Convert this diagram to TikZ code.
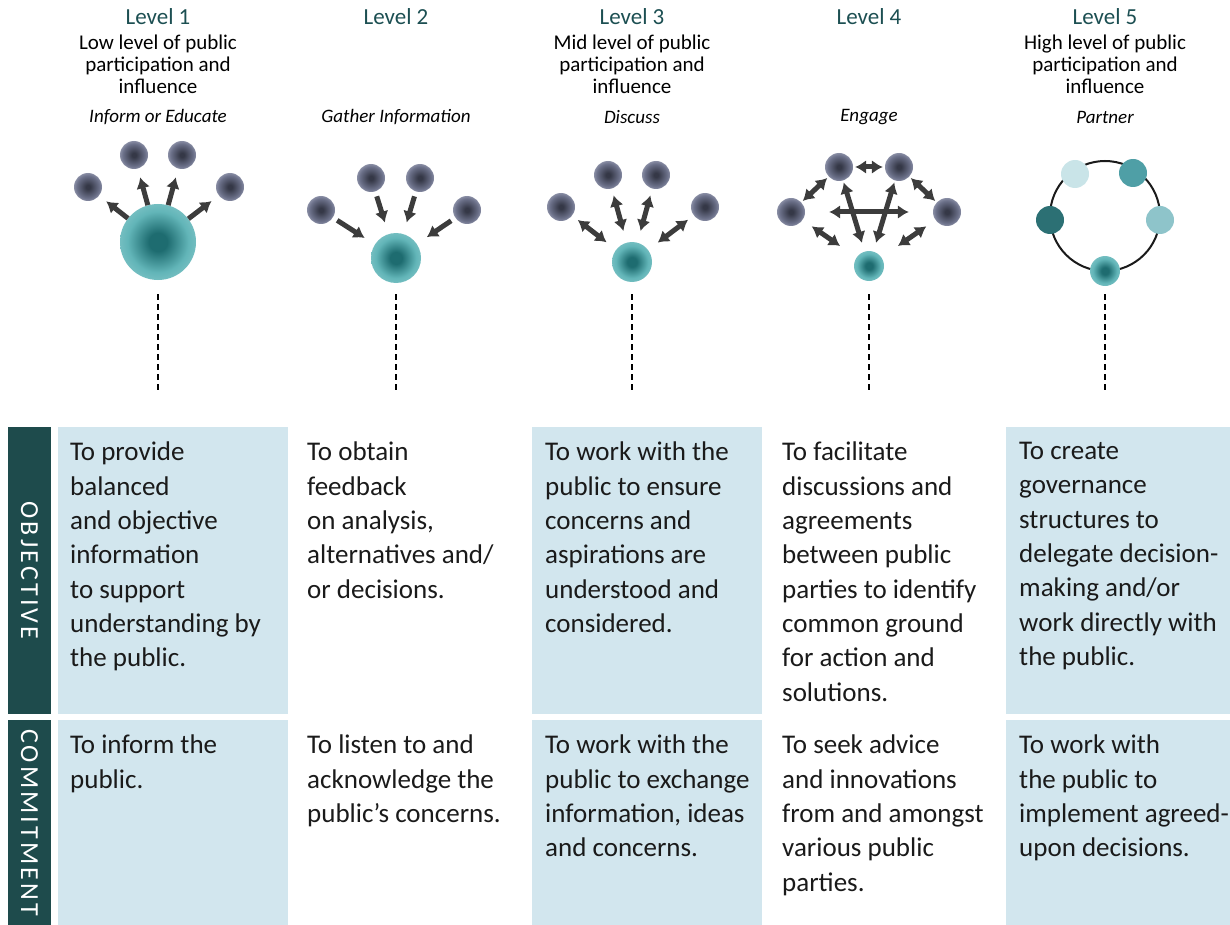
\documentclass[tikz,border=0pt]{standalone}
\usepackage{fontspec}
\setmainfont{Carlito}
\newfontfamily\tabfont[LetterSpace=12]{Carlito}
\usepackage{tikz}
\usetikzlibrary{arrows.meta}
\definecolor{pp-tab}{HTML}{1E4B4C}
\definecolor{pp-head}{HTML}{1C4F52}
\definecolor{pp-cell}{HTML}{D2E6EE}
\definecolor{pp-ink}{HTML}{1A1A1A}
\definecolor{pp-arrow}{HTML}{3C3C3C}
\definecolor{pp-dot}{HTML}{353847}
\definecolor{pp-dotmid}{HTML}{6B7089}
\definecolor{pp-dotrim}{HTML}{C6CADC}
\definecolor{pp-core}{HTML}{1E6C70}
\definecolor{pp-teal}{HTML}{62B5B8}
\definecolor{pp-tealrim}{HTML}{A6D8DA}
\definecolor{pp-pale}{HTML}{C9E4E8}
\definecolor{pp-mid}{HTML}{4F9FA6}
\definecolor{pp-deep}{HTML}{2C7074}
\definecolor{pp-soft}{HTML}{8EC4CA}
\pgfdeclareradialshading{pp-person}{\pgfpoint{0bp}{0bp}}{color(0bp)=(pp-dot); color(4bp)=(pp-dot); color(20bp)=(pp-dotmid); color(36bp)=(pp-dotrim); color(50bp)=(white)}
\pgfdeclareradialshading{pp-agency}{\pgfpoint{0bp}{0bp}}{color(0bp)=(pp-core); color(6bp)=(pp-core); color(20bp)=(pp-teal); color(40bp)=(pp-tealrim); color(50bp)=(white)}

\begin{document}
\begin{tikzpicture}[x=1pt, y=-1pt,
    person/.style={circle, inner sep=0pt, minimum size=28pt, shading=pp-person},
    agency/.style={circle, inner sep=0pt, shading=pp-agency},
    partner/.style={circle, inner sep=0pt, minimum size=28pt},
    flowline/.style={draw=pp-arrow, line width=5pt},
    onetip/.style={-{Latex[length=11pt, width=14pt]}},
    twotip/.style={{Latex[length=11pt, width=14pt]}-{Latex[length=11pt, width=14pt]}},
    heading/.style={font=\fontsize{23}{26}\selectfont, text=pp-head},
    subtitle/.style={font=\fontsize{21}{22}\selectfont, align=center},
    mode/.style={font=\fontsize{19}{22}\selectfont\itshape},
    celltext/.style={font=\fontsize{27}{34.3}\selectfont, align=left, anchor=north west, inner sep=0pt, text=pp-ink},
    tabbox/.style={fill=pp-tab, text=white, font=\tabfont\fontsize{26}{26}\selectfont, rotate=-90, inner sep=0pt, minimum height=43pt}]

    \useasboundingbox (0,0) rectangle (1230,925);

    % headings
    \node[heading] (h1) at (158,17) {Level 1};
    \node[heading] (h2) at (396,17) {Level 2};
    \node[heading] (h3) at (632,17) {Level 3};
    \node[heading] (h4) at (869,17) {Level 4};
    \node[heading] (h5) at (1105,17) {Level 5};
    \node[subtitle] (s1) at (158,64) {Low level of public\\participation and\\influence};
    \node[subtitle] (s3) at (632,64) {Mid level of public\\participation and\\influence};
    \node[subtitle] (s5) at (1105,64) {High level of public\\participation and\\influence};
    \node[mode] (m1) at (158,117) {Inform or Educate};
    \node[mode] (m2) at (396,117) {Gather Information};
    \node[mode] (m3) at (632,117) {Discuss};
    \node[mode] (m4) at (869,117) {Engage};
    \node[mode] (m5) at (1105,117) {Partner};

    % level 1: inform
    \node[agency, minimum size=76pt] (c1) at (158,242) {};
    \node[person] (p11) at (88,187) {};
    \node[person] (p12) at (134,155) {};
    \node[person] (p13) at (182,155) {};
    \node[person] (p14) at (230,187) {};
    \begin{scope}[flowline, onetip, shorten >=9pt]
        \draw (c1) -- (p11);
        \draw (c1) -- (p12);
        \draw (c1) -- (p13);
        \draw (c1) -- (p14);
    \end{scope}

    % level 2: gather
    \node[agency, minimum size=50pt] (c2) at (396,258) {};
    \node[person] (p21) at (321,210) {};
    \node[person] (p22) at (371,178) {};
    \node[person] (p23) at (420,178) {};
    \node[person] (p24) at (467,210) {};
    \begin{scope}[flowline, onetip, shorten <=5pt, shorten >=12pt]
        \draw (p21) -- (c2);
        \draw (p22) -- (c2);
        \draw (p23) -- (c2);
        \draw (p24) -- (c2);
    \end{scope}

    % level 3: discuss
    \node[agency, minimum size=40pt] (c3) at (632,262) {};
    \node[person] (p31) at (561,207) {};
    \node[person] (p32) at (608,175) {};
    \node[person] (p33) at (656,175) {};
    \node[person] (p34) at (705,207) {};
    \begin{scope}[flowline, twotip, shorten <=7pt, shorten >=12pt]
        \draw (p31) -- (c3);
        \draw (p32) -- (c3);
        \draw (p33) -- (c3);
        \draw (p34) -- (c3);
    \end{scope}

    % level 4: engage
    \node[agency, minimum size=30pt] (c4) at (869,266) {};
    \node[person] (p41) at (791,212) {};
    \node[person] (p42) at (839,167) {};
    \node[person] (p43) at (899,167) {};
    \node[person] (p44) at (947,212) {};
    \begin{scope}[flowline, twotip]
        \draw[shorten <=2pt, shorten >=2pt] (p41) -- (p42);
        \draw[shorten <=2pt, shorten >=2pt] (p42) -- (p43);
        \draw[shorten <=2pt, shorten >=2pt] (p43) -- (p44);
        \draw[shorten <=24pt, shorten >=24pt] (p41) -- (p44);
        \draw[shorten <=2pt, shorten >=9pt] (p42) -- (c4);
        \draw[shorten <=2pt, shorten >=9pt] (p43) -- (c4);
        \draw[shorten <=11pt, shorten >=20pt] (p41) -- (c4);
        \draw[shorten <=11pt, shorten >=20pt] (p44) -- (c4);
    \end{scope}

    % level 5: partner
    \coordinate (ring) at (1105,216);
    \draw[line width=2pt, color=pp-ink] (ring) circle (55);
    \node[partner, fill=pp-pale] (p51) at (1075,174) {};
    \node[partner, fill=pp-mid] (p52) at (1133,173) {};
    \node[partner, fill=pp-deep] (p53) at (1050,220) {};
    \node[partner, fill=pp-soft] (p54) at (1160,220) {};
    \node[agency, minimum size=30pt] (c5) at (1105,271) {};

    % dashed guides down to the table
    \foreach \x [count=\i] in {158,396,632,869,1105} {
        \coordinate (top\i) at (\x,294);
        \coordinate (bot\i) at (\x,391);
        \draw[line width=1.4pt, dash pattern=on 6pt off 4pt] (top\i) -- (bot\i);
    }

    % shaded cells
    \foreach \l/\r in {58/288, 532/762, 1006/1230} {
        \fill[pp-cell] (\l,427) rectangle (\r,714);
        \fill[pp-cell] (\l,720) rectangle (\r,925);
    }

    % row labels
    \node[tabbox, minimum width=287pt] (obj) at (29.5,570.5) {OBJECTIVE};
    \node[tabbox, minimum width=205pt] (com) at (29.5,822.5) {COMMITMENT};

    % objective row
    \node[celltext] (o1) at (70,442) {To provide\\balanced\\and objective\\information\\to support\\understanding by\\the public.};
    \node[celltext] (o2) at (307,442) {To obtain\\feedback\\on analysis,\\alternatives and/\\or decisions.};
    \node[celltext] (o3) at (545,442) {To work with the\\public to ensure\\concerns and\\aspirations are\\understood and\\considered.};
    \node[celltext] (o4) at (782,442) {To facilitate\\discussions and\\agreements\\between public\\parties to identify\\common ground\\for action and\\solutions.};
    \node[celltext] (o5) at (1019,442) {To create\\governance\\structures to\\delegate decision-\\making and/or\\work directly with\\the public.};

    % commitment row
    \node[celltext] (k1) at (70,735) {To inform the\\public.};
    \node[celltext] (k2) at (307,735) {To listen to and\\acknowledge the\\public’s concerns.};
    \node[celltext] (k3) at (545,735) {To work with the\\public to exchange\\information, ideas\\and concerns.};
    \node[celltext] (k4) at (782,735) {To seek advice\\and innovations\\from and amongst\\various public\\parties.};
    \node[celltext] (k5) at (1019,735) {To work with\\the public to\\implement agreed-\\upon decisions.};

\end{tikzpicture}
\end{document}
